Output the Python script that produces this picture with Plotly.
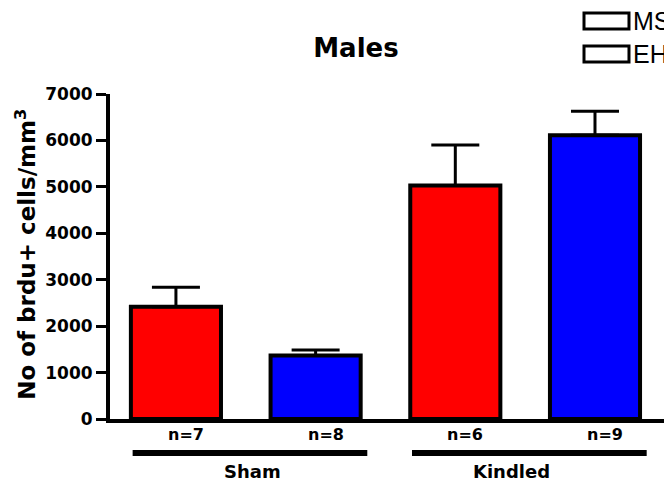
import plotly.graph_objects as go

# BrdU+ cell density (cells/mm^3), mean +/- SEM, per strain and treatment group
groups = ["Sham", "Kindled"]
strains = ["MS", "EH"]
ms_mean = [2420, 5030]
ms_sem = [420, 870]
ms_n = [7, 6]
eh_mean = [1370, 6110]
eh_sem = [115, 520]
eh_n = [8, 9]
y_ticks = [0, 1000, 2000, 3000, 4000, 5000, 6000, 7000]

strain_colors = {"MS": "#FF0000", "EH": "#0000FF"}
series = {
    "MS": (ms_mean, ms_sem, ms_n),
    "EH": (eh_mean, eh_sem, eh_n),
}

BAR_W = 0.645
FONT = "DejaVu Sans"

fig = go.Figure()
annotations = []
shapes = []

for si, s in enumerate(strains):
    mean, sem, n = series[s]
    xs = [gi * 2 + si for gi in range(len(groups))]
    fig.add_trace(go.Bar(
        x=xs, y=mean, name=s, width=BAR_W,
        marker=dict(color=strain_colors[s], line=dict(color="black", width=4)),
        error_y=dict(type="data", array=sem, arrayminus=[0] * len(sem),
                     symmetric=False, color="black", thickness=3, width=24),
        showlegend=False,
    ))
    # sample size under each bar
    for x, k in zip(xs, n):
        annotations.append(dict(
            x=x, y=-0.049, xref="x", yref="paper", xshift=10,
            text=f"n={k}", showarrow=False, yanchor="middle",
            font=dict(family=FONT, size=16, color="black", weight="bold"),
        ))

# group bars and labels under the axis
group_label_x = [0.55, 2.4]
for gi, g in enumerate(groups):
    x0 = gi * 2
    shapes.append(dict(type="line", xref="x", yref="paper",
                       x0=x0 - 0.31, x1=x0 + 1.37, y0=-0.1046, y1=-0.1046,
                       line=dict(color="black", width=6)))
    annotations.append(dict(
        x=group_label_x[gi], y=-0.163, xref="x", yref="paper",
        text=g, showarrow=False, yanchor="middle",
        font=dict(family=FONT, size=18, color="black", weight="bold"),
    ))

# key boxes in the top-right corner
key_rows = [(1.249, 1.2), (1.1477, 1.0985)]
for s, (yt, yb) in zip(strains, key_rows):
    shapes.append(dict(type="rect", xref="paper", yref="paper",
                       x0=0.8556, x1=0.9368, y0=yb, y1=yt,
                       fillcolor="white", line=dict(color="black", width=3)))
    annotations.append(dict(
        x=0.9404, y=(yt + yb) / 2, xref="paper", yref="paper",
        text=s, showarrow=False, xanchor="left", yanchor="middle",
        font=dict(family="Liberation Sans", size=25, color="black"),
    ))

# y-axis title
annotations.append(dict(
    x=-0.153, y=0.506, xref="paper", yref="paper", textangle=-90,
    text="No of brdu+ cells/mm<sup>3</sup>", showarrow=False,
    xanchor="center", yanchor="middle",
    font=dict(family=FONT, size=23, color="black", weight="bold"),
))

fig.update_layout(
    width=664, height=484,
    margin=dict(l=110, r=0, t=94, b=65),
    paper_bgcolor="white", plot_bgcolor="white",
    barmode="overlay",
    title=dict(text="Males", x=0.444, xref="paper", xanchor="center",
               y=1 - 48 / 484, yref="container", yanchor="middle",
               font=dict(family=FONT, size=26, color="black", weight="bold")),
    xaxis=dict(range=[-0.472, 3.494], showgrid=False, zeroline=False,
               showline=True, linecolor="black", linewidth=4,
               showticklabels=False, ticks=""),
    yaxis=dict(range=[0, 7000], tickvals=y_ticks, showgrid=False,
               zeroline=False, showline=True, linecolor="black", linewidth=4,
               ticks="outside", ticklen=10, tickwidth=3, tickcolor="black",
               tickfont=dict(family=FONT, size=17, color="black", weight="bold")),
    annotations=annotations,
    shapes=shapes,
)

fig.write_html("out.html")
